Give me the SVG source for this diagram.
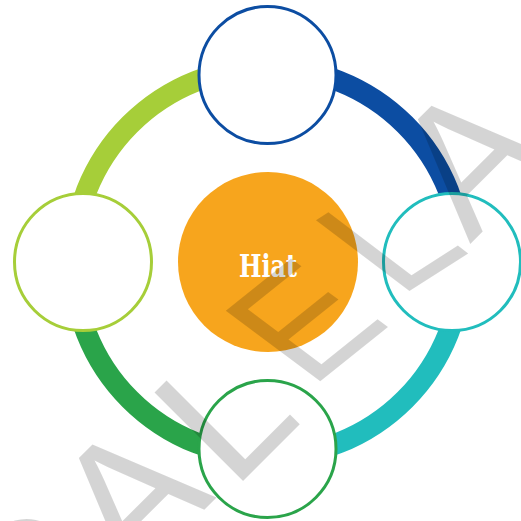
<svg xmlns="http://www.w3.org/2000/svg" width="521" height="521" viewBox="0 0 521 521">
<style>
.arc{fill:none;stroke-width:21}
.node{fill:#fff;stroke-width:3}
.wm{font-family:"Liberation Sans",Arial,sans-serif;font-size:100px;fill:#000;fill-opacity:0.17}
.lbl{font-family:"DejaVu Serif Condensed","DejaVu Serif",serif;font-weight:bold;font-size:32px;fill:#fff}
</style>
<rect width="521" height="521" fill="#fff"/>
<g id="connectors">
<path class="arc" stroke="#a6ce39" d="M73 262 A194.5 194.5 0 0 1 267.5 67.5"/>
<path class="arc" stroke="#0c4da2" d="M267.5 67.5 A194.5 194.5 0 0 1 462 262"/>
<path class="arc" stroke="#21bdbd" d="M462 262 A194.5 194.5 0 0 1 267.5 456.5"/>
<path class="arc" stroke="#2aa44a" d="M267.5 456.5 A194.5 194.5 0 0 1 73 262"/>
</g>
<g id="node-center">
<circle cx="268" cy="262" r="90" fill="#f7a51d"/>
<text class="lbl" x="268" y="277" text-anchor="middle" textLength="58" lengthAdjust="spacingAndGlyphs">Hiat</text>
</g>
<g id="node-top"><circle class="node" cx="267.5" cy="75" r="68.5" stroke="#0c4da2"/></g>
<g id="node-right"><circle class="node" cx="452" cy="262" r="68.5" stroke="#21bdbd"/></g>
<g id="node-bottom"><circle class="node" cx="267.5" cy="449" r="68.5" stroke="#2aa44a"/></g>
<g id="node-left"><circle class="node" cx="83" cy="262" r="68.5" stroke="#a6ce39"/></g>
<g id="watermark">
<text class="wm" transform="matrix(1.287,-1.287,1.287,1.287,26,678)">C</text>
<text class="wm" transform="matrix(1.287,-1.287,1.287,1.287,131.1,583.1)">A</text>
<text class="wm" transform="matrix(1.287,-1.287,1.287,1.287,232.6,491.4)">L</text>
<text class="wm" transform="matrix(1.25,-1.0,1.373,1.025,310.1,389.6)">E</text>
<text class="wm" transform="matrix(1.333,-0.853,1.359,1.029,398.6,297.9)">L</text>
<text class="wm" transform="matrix(1.287,-1.287,1.287,1.287,469.9,244.3)">A</text>
</g>
</svg>
